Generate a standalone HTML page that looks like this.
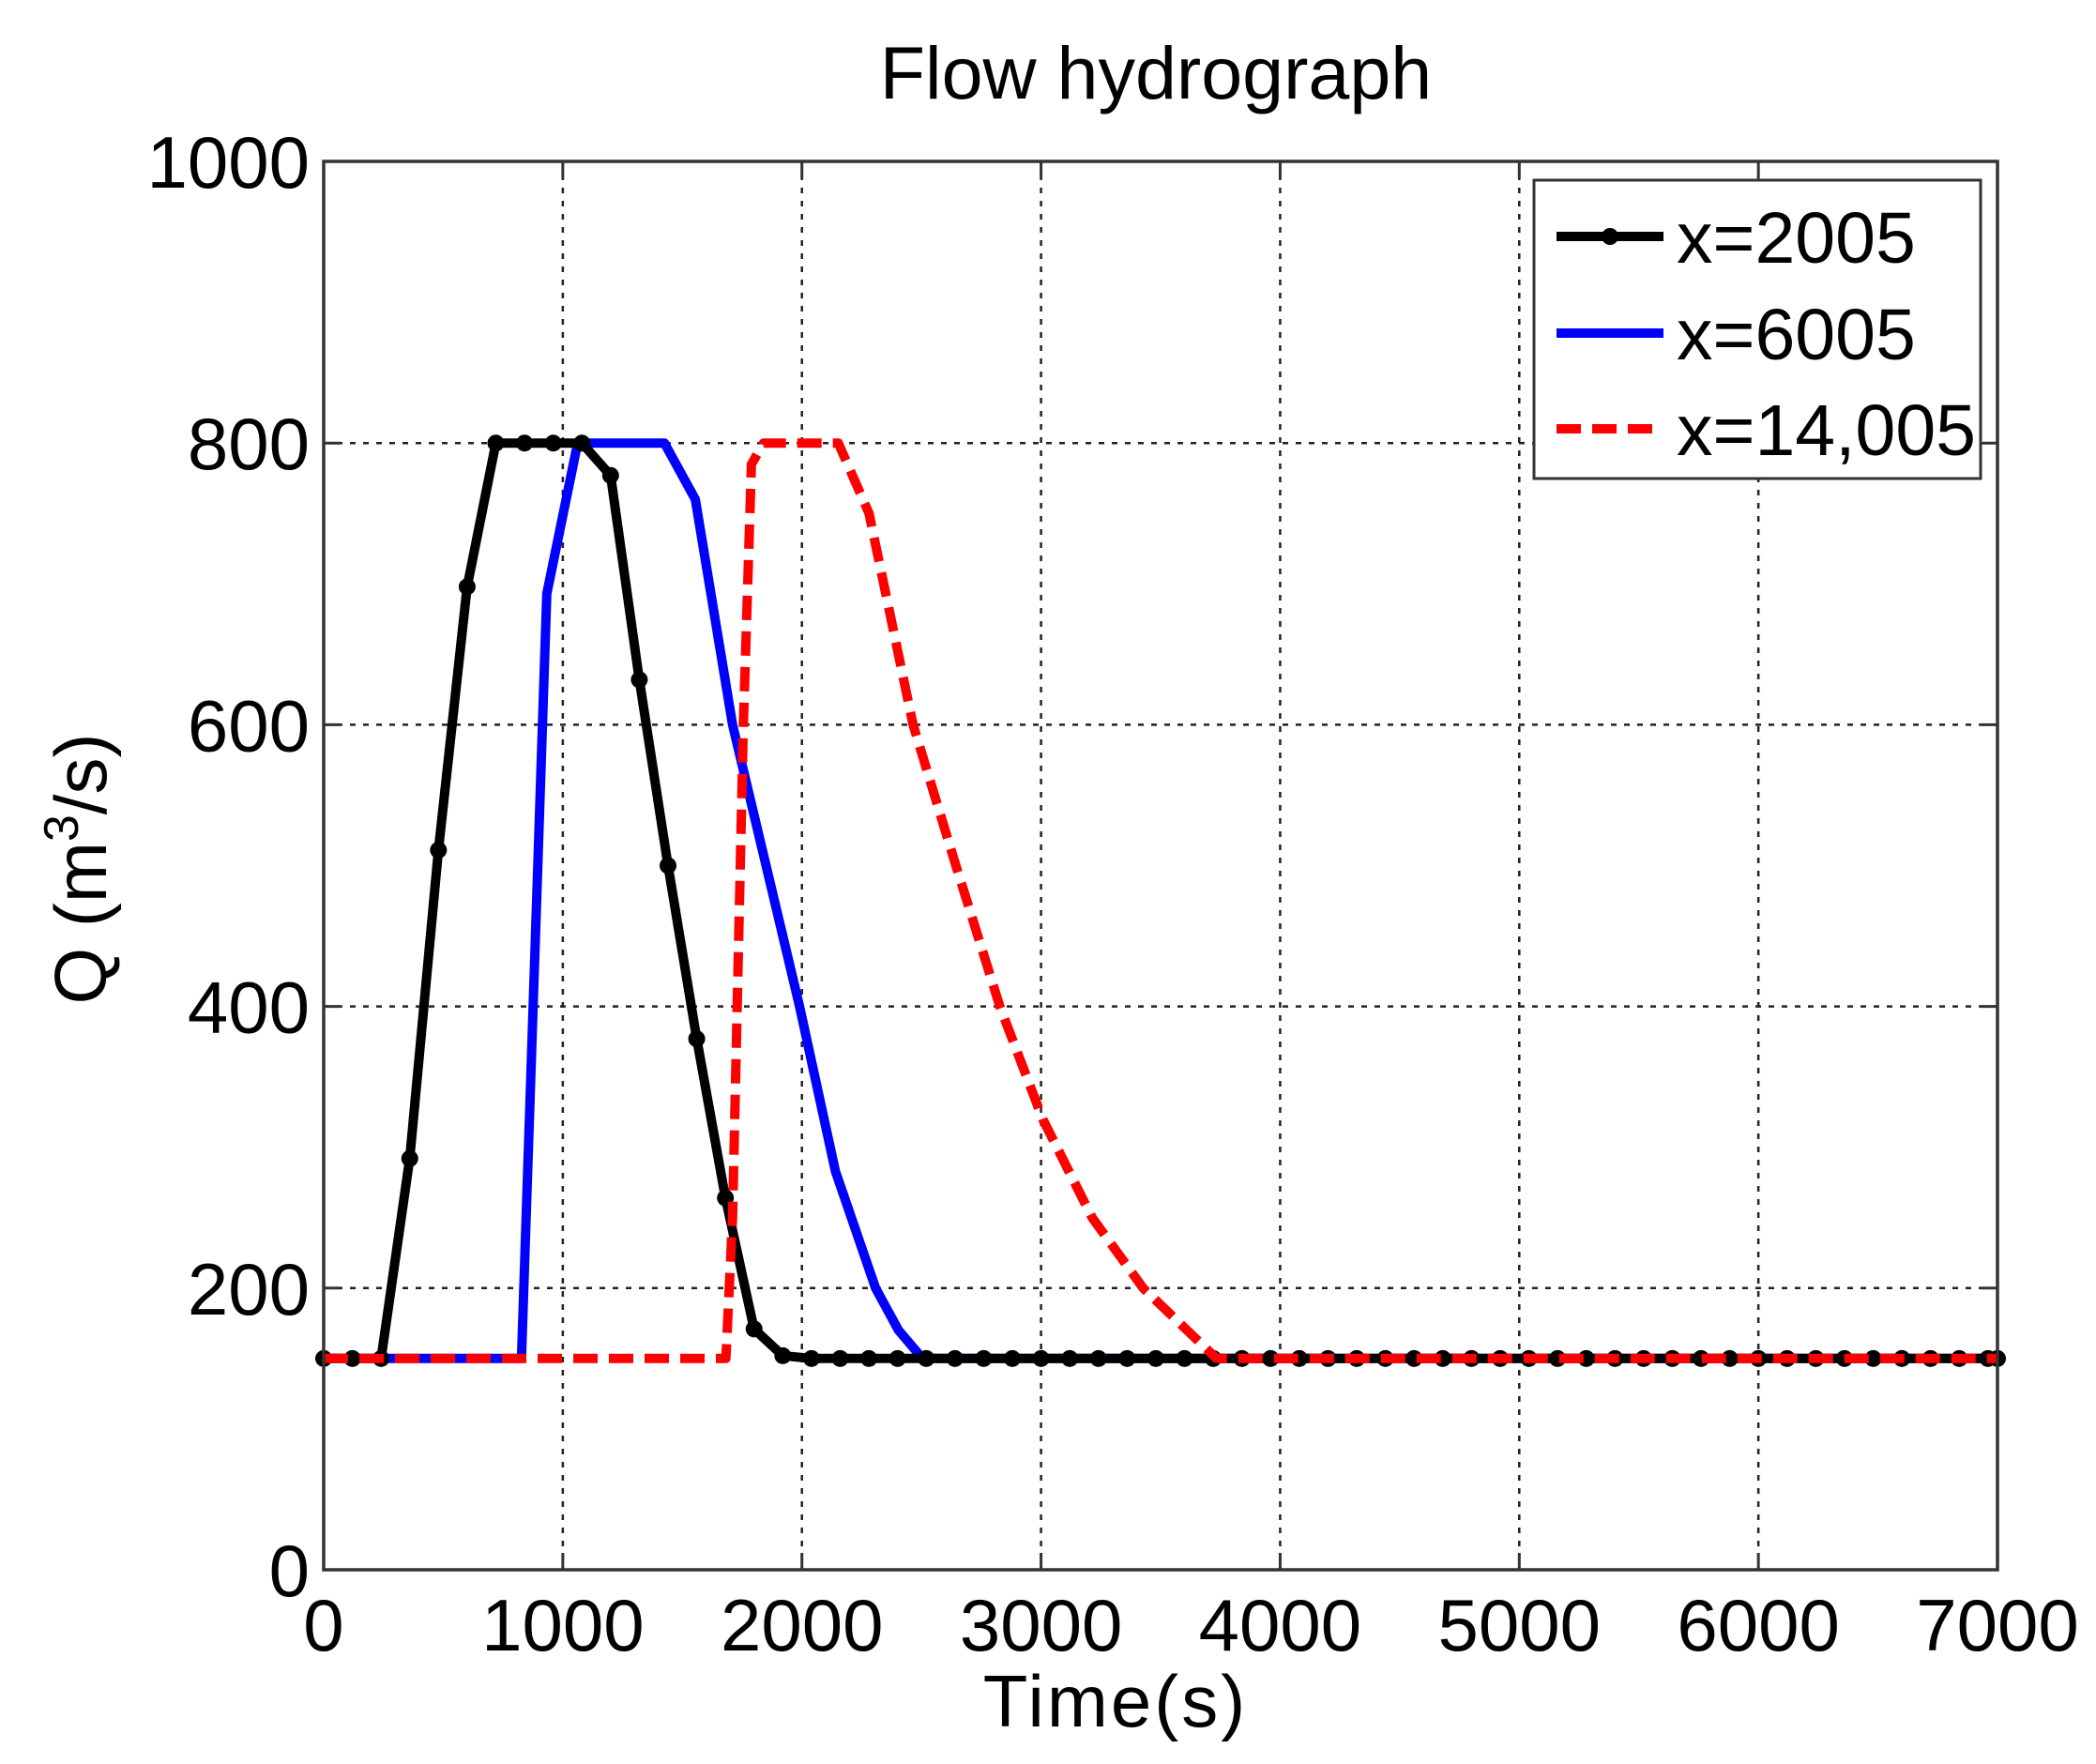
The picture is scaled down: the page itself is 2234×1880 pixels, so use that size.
<!DOCTYPE html>
<html><head><meta charset="utf-8"><style>
html,body{margin:0;padding:0;background:#fff}
svg{display:block}
text{font-family:"Liberation Sans",Arial,sans-serif;fill:#000}
</style></head><body>
<svg id="s" width="2234" height="1880" viewBox="0 0 2234 1880" xmlns="http://www.w3.org/2000/svg">
<rect width="2234" height="1880" fill="#fff"/>
<g id="grid" stroke="#222" stroke-width="2.5" stroke-dasharray="6,8" fill="none"></g>
<g id="series"></g>
<rect x="345" y="172" width="1784" height="1501" fill="none" stroke="#333" stroke-width="3.5"/>
<g id="ticks" stroke="#333" stroke-width="3"></g>
<g id="labels" font-size="78"></g>
<text x="1232" y="105" font-size="79" text-anchor="middle">Flow hydrograph</text>
<text x="1189" y="1840" font-size="78" text-anchor="middle" letter-spacing="3">Time(s)</text>
<text transform="translate(113,926) rotate(-90)" font-size="78" text-anchor="middle">Q (m<tspan font-size="52" dy="-30">3</tspan><tspan dy="30">/s)</tspan></text>
<g id="legend">
<rect x="1635" y="192" width="476" height="318" fill="#fff" stroke="#333" stroke-width="3"/>
<line x1="1659" y1="252" x2="1773" y2="252" stroke="#000" stroke-width="10"/>
<circle cx="1716" cy="252" r="9" fill="#000"/>
<line x1="1659" y1="355" x2="1773" y2="355" stroke="#00f" stroke-width="10"/>
<line x1="1659" y1="457" x2="1773" y2="457" stroke="#f00" stroke-width="10" stroke-dasharray="26,12"/>
<text x="1787" y="280" font-size="77">x=2005</text>
<text x="1787" y="383" font-size="77">x=6005</text>
<text x="1787" y="485" font-size="77">x=14,005</text>
</g>
</svg>
<script>
var NS="http://www.w3.org/2000/svg";
function X(t){return 345+t*0.25486}
function Y(q){return 1673-q*1.501}
function el(tag,attrs,parent){var e=document.createElementNS(NS,tag);for(var k in attrs)e.setAttribute(k,attrs[k]);parent.appendChild(e);return e}
var g=document.getElementById('grid'),tk=document.getElementById('ticks'),lb=document.getElementById('labels');
for(var t=1000;t<7000;t+=1000)el('line',{x1:X(t),y1:172,x2:X(t),y2:1673},g);
for(var q=200;q<1000;q+=200)el('line',{x1:345,y1:Y(q),x2:2129,y2:Y(q)},g);
for(var t=0;t<=7000;t+=1000){el('line',{x1:X(t),y1:1673,x2:X(t),y2:1655},tk);el('line',{x1:X(t),y1:172,x2:X(t),y2:190},tk);
 var e=el('text',{x:X(t),y:1759,'text-anchor':'middle'},lb);e.textContent=t;}
for(var q=0;q<=1000;q+=200){el('line',{x1:345,y1:Y(q),x2:363,y2:Y(q)},tk);el('line',{x1:2129,y1:Y(q),x2:2111,y2:Y(q)},tk);
 var e=el('text',{x:330,y:Y(q)+28,'text-anchor':'end'},lb);e.textContent=q;}
var s=document.getElementById('series');
function pl(pts,attrs){var d=pts.map(function(p){return X(p[0]).toFixed(1)+','+Y(p[1]).toFixed(1)}).join(' ');attrs.points=d;attrs.fill='none';attrs['stroke-linejoin']='round';el('polyline',attrs,s)}
pl([[0,150],[827,150],[933,693],[1062,800],[1425,800],[1554,760],[1710,600],[1850,500],[1990,400],[2140,283],[2308,200],[2404,170],[2504,150],[7000,150]],{stroke:'#00f','stroke-width':10});
var bv={0:150,120:150,240:150,360:292,480:511,600:698,720:800,840:800,960:800,1080:800,1200:777,1320:632,1440:500,1560:377,1680:264,1800:171,1920:152};
var bp=[];for(var t=0;t<=7000;t+=120){bp.push([t,bv[t]!==undefined?bv[t]:150])}
bp.push([7000,150]);
pl(bp,{stroke:'#000','stroke-width':10});
bp.forEach(function(p){el('circle',{cx:X(p[0]),cy:Y(p[1]),r:9,fill:'#000'},s)});
pl([[0,150],[1682,150],[1710,250],[1755,600],[1789,785],[1840,800],[2152,800],[2281,750],[2465,600],[2644,500],[2828,400],[3007,320],[3214,250],[3427,200],[3734,150],[7000,150]],{stroke:'#f00','stroke-width':10,'stroke-dasharray':'26,12'});
</script>
</body></html>
